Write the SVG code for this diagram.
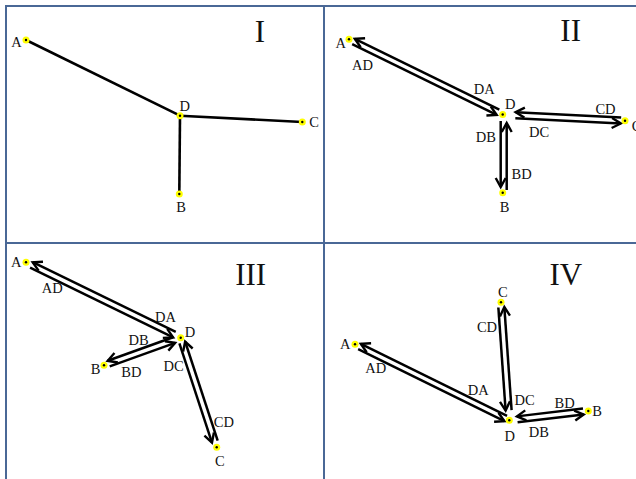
<svg xmlns="http://www.w3.org/2000/svg" width="636" height="479" viewBox="0 0 636 479">
<style>
.frame{stroke:#4a6896;stroke-width:2;fill:none}
.edge{stroke:#000;stroke-width:2.6;fill:none}
.arr{stroke:#000;stroke-width:2.5;fill:none;marker-end:url(#ah)}
.lbl{font-family:"Liberation Serif","Times New Roman",serif;font-size:14.5px;fill:#111;text-anchor:middle}
.num{font-family:"Liberation Serif","Times New Roman",serif;font-size:31px;fill:#111;text-anchor:middle}
.ring{fill:#ffff00}
.dot{fill:#000}
</style>
<defs>
<marker id="ah" viewBox="-12 -7 14 14" refX="0" refY="0" markerWidth="14" markerHeight="14" markerUnits="userSpaceOnUse" orient="auto" overflow="visible">
<path d="M-9,-5 L0,0 L-9,5" fill="none" stroke="#000" stroke-width="2.4"/>
</marker>
</defs>
<rect width="636" height="479" fill="#fff"/>
<g id="frame">
<path class="frame" d="M6,479 V6 H636 M324,6 V479 M6,243 H636"/>
</g>
<g id="connectors">
<!-- Panel I -->
<line class="edge" x1="180" y1="115.7" x2="26" y2="40"/>
<line class="edge" x1="180" y1="115.7" x2="302.3" y2="122"/>
<line class="edge" x1="180" y1="115.7" x2="179.3" y2="194"/>
<!-- Panel II -->
<line class="arr" x1="499.33" y1="109.61" x2="354.81" y2="38.81"/>
<line class="arr" x1="352.17" y1="44.19" x2="496.69" y2="114.99"/>
<line class="arr" x1="500.7" y1="121" x2="500.7" y2="187"/>
<line class="arr" x1="506.7" y1="190" x2="506.7" y2="123"/>
<line class="arr" x1="515.33" y1="118.16" x2="620.86" y2="123.5"/>
<line class="arr" x1="621.16" y1="117.5" x2="515.63" y2="112.16"/>
<!-- Panel III -->
<line class="arr" x1="175.72" y1="331.93" x2="32.7" y2="262.23"/>
<line class="arr" x1="30.08" y1="267.63" x2="173.1" y2="337.33"/>
<line class="arr" x1="173.09" y1="337.25" x2="107.69" y2="360.79"/>
<line class="arr" x1="109.73" y1="366.43" x2="175.13" y2="342.89"/>
<line class="arr" x1="179.41" y1="343.39" x2="211.98" y2="442.54"/>
<line class="arr" x1="217.68" y1="440.66" x2="185.11" y2="341.51"/>
<!-- Panel IV -->
<line class="arr" x1="507.04" y1="415.84" x2="360.82" y2="343.82"/>
<line class="arr" x1="358.16" y1="349.2" x2="504.38" y2="421.22"/>
<line class="arr" x1="511.59" y1="410.11" x2="504.34" y2="307.08"/>
<line class="arr" x1="498.36" y1="307.5" x2="505.61" y2="410.53"/>
<line class="arr" x1="517.59" y1="422.34" x2="583.68" y2="414.56"/>
<line class="arr" x1="582.98" y1="408.6" x2="516.89" y2="416.38"/>
</g>
<g id="edge-labels">
<text class="lbl" x="362.5" y="70">AD</text>
<text class="lbl" x="484.2" y="94">DA</text>
<text class="lbl" x="605.5" y="113.5">CD</text>
<text class="lbl" x="539" y="136.5">DC</text>
<text class="lbl" x="485.8" y="141.5">DB</text>
<text class="lbl" x="521.7" y="178.5">BD</text>
<text class="lbl" x="52.3" y="293">AD</text>
<text class="lbl" x="165.5" y="321.5">DA</text>
<text class="lbl" x="138.7" y="344.5">DB</text>
<text class="lbl" x="131.3" y="376.5">BD</text>
<text class="lbl" x="173.7" y="370.5">DC</text>
<text class="lbl" x="223.8" y="426.5">CD</text>
<text class="lbl" x="487" y="332">CD</text>
<text class="lbl" x="375.7" y="373">AD</text>
<text class="lbl" x="478.3" y="394.5">DA</text>
<text class="lbl" x="524.7" y="404.5">DC</text>
<text class="lbl" x="564.7" y="408">BD</text>
<text class="lbl" x="538.8" y="437">DB</text>
</g>
<g id="panel-titles">
<text class="num" x="260" y="41.7">I</text>
<text class="num" x="570.7" y="40.7">II</text>
<text class="num" x="250.7" y="285">III</text>
<text class="num" x="565.8" y="285">IV</text>
</g>
<!-- Panel I nodes -->
<g id="I-A"><circle class="ring" cx="26" cy="40" r="3.5"/><circle class="dot" cx="26" cy="40" r="1.2"/><text class="lbl" x="16.5" y="46.5">A</text></g>
<g id="I-D"><circle class="ring" cx="180" cy="115.7" r="3.5"/><circle class="dot" cx="180" cy="115.7" r="1.2"/><text class="lbl" x="184.7" y="110.5">D</text></g>
<g id="I-C"><circle class="ring" cx="302.3" cy="122" r="3.5"/><circle class="dot" cx="302.3" cy="122" r="1.2"/><text class="lbl" x="314" y="127">C</text></g>
<g id="I-B"><circle class="ring" cx="179.3" cy="194" r="3.5"/><circle class="dot" cx="179.3" cy="194" r="1.2"/><text class="lbl" x="181" y="212">B</text></g>
<!-- Panel II nodes -->
<g id="II-A"><circle class="ring" cx="349" cy="39.3" r="3.5"/><circle class="dot" cx="349" cy="39.3" r="1.2"/><text class="lbl" x="340.8" y="48">A</text></g>
<g id="II-D"><circle class="ring" cx="502.7" cy="114.5" r="3.5"/><circle class="dot" cx="502.7" cy="114.5" r="1.2"/><text class="lbl" x="510.3" y="109">D</text></g>
<g id="II-C"><circle class="ring" cx="625" cy="120.7" r="3.5"/><circle class="dot" cx="625" cy="120.7" r="1.2"/><text class="lbl" x="636.5" y="130.5">C</text></g>
<g id="II-B"><circle class="ring" cx="502.7" cy="192.7" r="3.5"/><circle class="dot" cx="502.7" cy="192.7" r="1.2"/><text class="lbl" x="504.5" y="212">B</text></g>
<!-- Panel III nodes -->
<g id="III-A"><circle class="ring" cx="26" cy="262.3" r="3.5"/><circle class="dot" cx="26" cy="262.3" r="1.2"/><text class="lbl" x="16.2" y="266.5">A</text></g>
<g id="III-D"><circle class="ring" cx="180.7" cy="337.7" r="3.5"/><circle class="dot" cx="180.7" cy="337.7" r="1.2"/><text class="lbl" x="190" y="337">D</text></g>
<g id="III-B"><circle class="ring" cx="104" cy="365.3" r="3.5"/><circle class="dot" cx="104" cy="365.3" r="1.2"/><text class="lbl" x="95.5" y="373.5">B</text></g>
<g id="III-C"><circle class="ring" cx="216.7" cy="447.3" r="3.5"/><circle class="dot" cx="216.7" cy="447.3" r="1.2"/><text class="lbl" x="219.8" y="465.5">C</text></g>
<!-- Panel IV nodes -->
<g id="IV-A"><circle class="ring" cx="355" cy="344.3" r="3.5"/><circle class="dot" cx="355" cy="344.3" r="1.2"/><text class="lbl" x="345.3" y="349">A</text></g>
<g id="IV-C"><circle class="ring" cx="501" cy="302.3" r="3.5"/><circle class="dot" cx="501" cy="302.3" r="1.2"/><text class="lbl" x="502.8" y="297">C</text></g>
<g id="IV-D"><circle class="ring" cx="509.3" cy="420.3" r="3.5"/><circle class="dot" cx="509.3" cy="420.3" r="1.2"/><text class="lbl" x="509.7" y="440.5">D</text></g>
<g id="IV-B"><circle class="ring" cx="588.3" cy="411" r="3.5"/><circle class="dot" cx="588.3" cy="411" r="1.2"/><text class="lbl" x="597" y="415.5">B</text></g>
</svg>
